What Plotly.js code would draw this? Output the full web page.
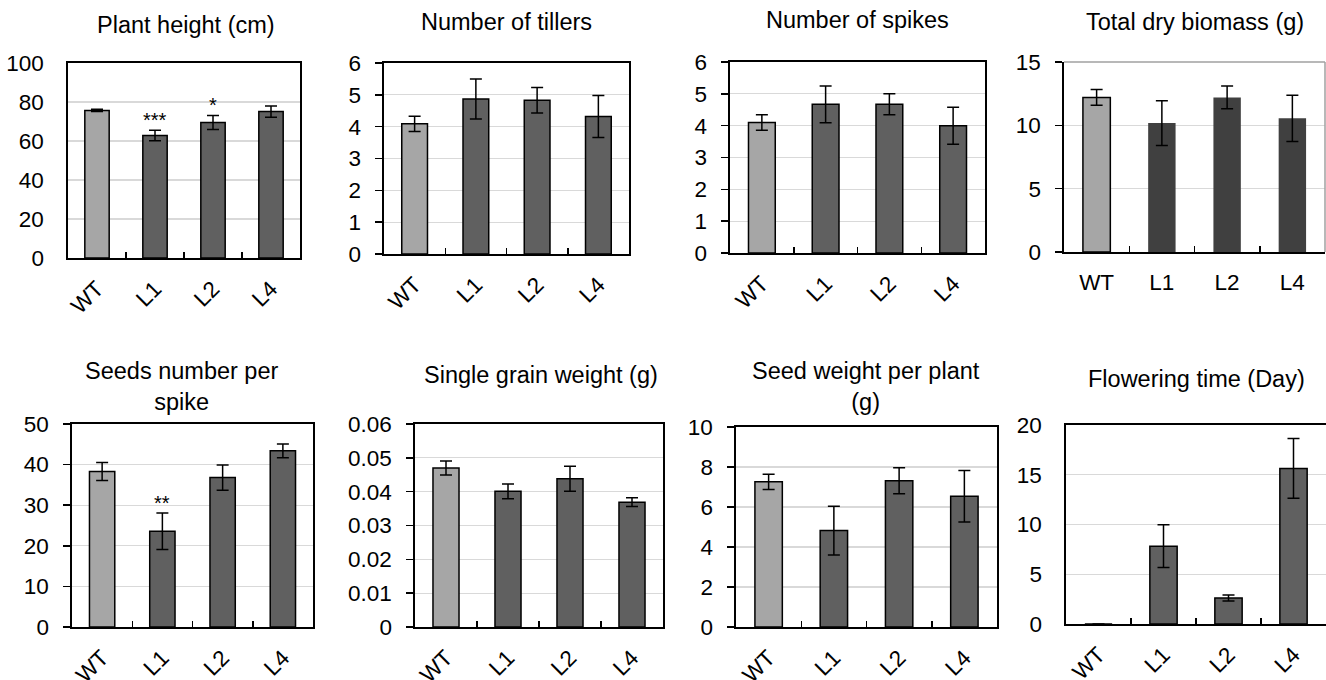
<!DOCTYPE html>
<html>
<head>
<meta charset="utf-8">
<script src="https://cdn.plot.ly/plotly-3.0.1.min.js"></script>
<style>html,body{margin:0;padding:0;background:#fff;}#chart{width:1326px;height:680px;}</style>
</head>
<body>
<div id="chart"></div>
<script>
const lines = ['WT', 'L1', 'L2', 'L4'];

const titles = [
  'Plant height (cm)', 'Number of tillers', 'Number of spikes', 'Total dry biomass (g)',
  'Seeds number per<br>spike', 'Single grain weight (g)', 'Seed weight per plant<br>(g)', 'Flowering time (Day)'
];

const plantHeight = [75.7, 62.8, 69.5, 75.1];
const plantHeightSD = [0.6, 2.7, 3.6, 2.9];
const tillers = [4.09, 4.87, 4.83, 4.32];
const tillersSD = [0.24, 0.63, 0.40, 0.66];
const spikes = [4.10, 4.67, 4.67, 4.00];
const spikesSD = [0.245, 0.58, 0.33, 0.58];
const biomass = [12.2, 10.18, 12.2, 10.55];
const biomassSD = [0.62, 1.77, 0.90, 1.82];
const seedsPerSpike = [38.3, 23.6, 36.8, 43.4];
const seedsPerSpikeSD = [2.2, 4.5, 3.1, 1.7];
const grainWeight = [0.0470, 0.0401, 0.0438, 0.0369];
const grainWeightSD = [0.0021, 0.0022, 0.0037, 0.0013];
const seedWeight = [7.26, 4.82, 7.31, 6.54];
const seedWeightSD = [0.38, 1.22, 0.65, 1.29];
const flowering = [0, 7.82, 2.62, 15.64];
const floweringSD = [0, 2.15, 0.30, 3.00];

const yMax = [100, 6, 6, 15, 50, 0.06, 10, 20];
const yStep = [20, 1, 1, 5, 10, 0.01, 2, 5];

// significance marks: [panel index, category, label]
const sigMarks = [[0, 'L1', '***'], [0, 'L2', '*'], [4, 'L1', '**']];

const means = [plantHeight, tillers, spikes, biomass, seedsPerSpike, grainWeight, seedWeight, flowering];
const sds = [plantHeightSD, tillersSD, spikesSD, biomassSD, seedsPerSpikeSD, grainWeightSD, seedWeightSD, floweringSD];

// layout geometry (pixels)
const W = 1326, H = 680;
const boxes = [
  [68, 300, 63, 258], [384, 629, 63, 254], [730, 985, 62, 253], [1064, 1325, 62, 252],
  [72, 313, 424, 627], [415, 663, 424, 627], [736, 997, 427, 627], [1066, 1326, 425, 624]
];
const titlePos = [
  [186, 25], [507, 22], [857, 20], [1195, 22],
  [182, 386], [541, 375], [866, 386], [1196, 379]
];
const yTicksOut = [false, true, true, true, true, true, true, false];

const LIGHT = '#a6a6a6', DARK = '#606060', DARKER = '#404040';
const FONT = 'Liberation Sans, Arial, sans-serif';

const data = [];
const layout = {
  width: W, height: H, margin: {l: 0, r: 0, t: 0, b: 0},
  paper_bgcolor: '#fff', plot_bgcolor: '#fff',
  showlegend: false, bargap: 0.58,
  font: {family: FONT, color: '#000', size: 22.5},
  annotations: [], shapes: []
};

for (let i = 0; i < 8; i++) {
  const sfx = i === 0 ? '' : String(i + 1);
  const isBio = i === 3;
  const colors = lines.map((c, k) => k === 0 ? LIGHT : (isBio ? DARKER : DARK));
  const lw = lines.map((c, k) => (isBio && k > 0) ? 0 : 1.5);
  data.push({
    type: 'bar', x: lines, y: means[i],
    xaxis: 'x' + sfx, yaxis: 'y' + sfx,
    marker: {color: colors, line: {color: '#000', width: lw}},
    error_y: {type: 'data', array: sds[i], visible: true, color: '#000', thickness: 1.5, width: 6},
    hoverinfo: 'none'
  });
  const b = boxes[i];
  layout['xaxis' + sfx] = {
    domain: [b[0] / W, b[1] / W], anchor: 'y' + sfx, type: 'category',
    showline: true, linecolor: '#000', linewidth: 1.6, mirror: !isBio,
    ticks: 'inside', tickson: 'boundaries', ticklen: 6, tickwidth: 1.5, tickcolor: '#000',
    tickangle: isBio ? 0 : -45, tickfont: {size: 22.5, family: FONT, color: '#000'},
    ticklabelstandoff: isBio ? 9 : 7,
    showgrid: false, zeroline: false, fixedrange: true
  };
  layout['yaxis' + sfx] = {
    domain: [1 - b[3] / H, 1 - b[2] / H], anchor: 'x' + sfx,
    range: [0, yMax[i]], dtick: yStep[i], tick0: 0,
    showline: true, linecolor: '#000', linewidth: 1.6, mirror: !isBio,
    ticks: yTicksOut[i] ? 'outside' : '', ticklen: 7, tickwidth: 1.5, tickcolor: '#000',
    tickfont: {size: 22.5, family: FONT, color: '#000'},
    ticklabelstandoff: yTicksOut[i] ? 10 : 18,
    showgrid: true, gridcolor: '#d9d9d9', gridwidth: 1.3,
    zeroline: false, fixedrange: true
  };
  layout.annotations.push({
    xref: 'paper', yref: 'paper', x: titlePos[i][0] / W, y: 1 - titlePos[i][1] / H,
    xanchor: 'center', yanchor: 'middle', showarrow: false,
    text: titles[i], font: {size: 23.5, family: FONT, color: '#000'}
  });
  if (isBio) {
    layout.shapes.push({type: 'line', xref: 'x4 domain', yref: 'y4 domain', x0: 0, x1: 1, y0: 1, y1: 1,
      line: {color: '#a0a0a0', width: 1.5}});
    layout.shapes.push({type: 'line', xref: 'x4 domain', yref: 'y4 domain', x0: 1, x1: 1, y0: 0, y1: 1,
      line: {color: '#a0a0a0', width: 1.5}});
  }
}

sigMarks.forEach(([p, cat, label]) => {
  const sfx = p === 0 ? '' : String(p + 1);
  const k = lines.indexOf(cat);
  layout.annotations.push({
    xref: 'x' + sfx, yref: 'y' + sfx, x: cat, y: means[p][k] + sds[p][k],
    xanchor: 'center', yanchor: 'bottom', yshift: -3, showarrow: false,
    text: label, font: {size: 20, family: FONT, color: '#000'}
  });
});

Plotly.newPlot('chart', data, layout, {staticPlot: true, displayModeBar: false});
</script>
</body>
</html>
